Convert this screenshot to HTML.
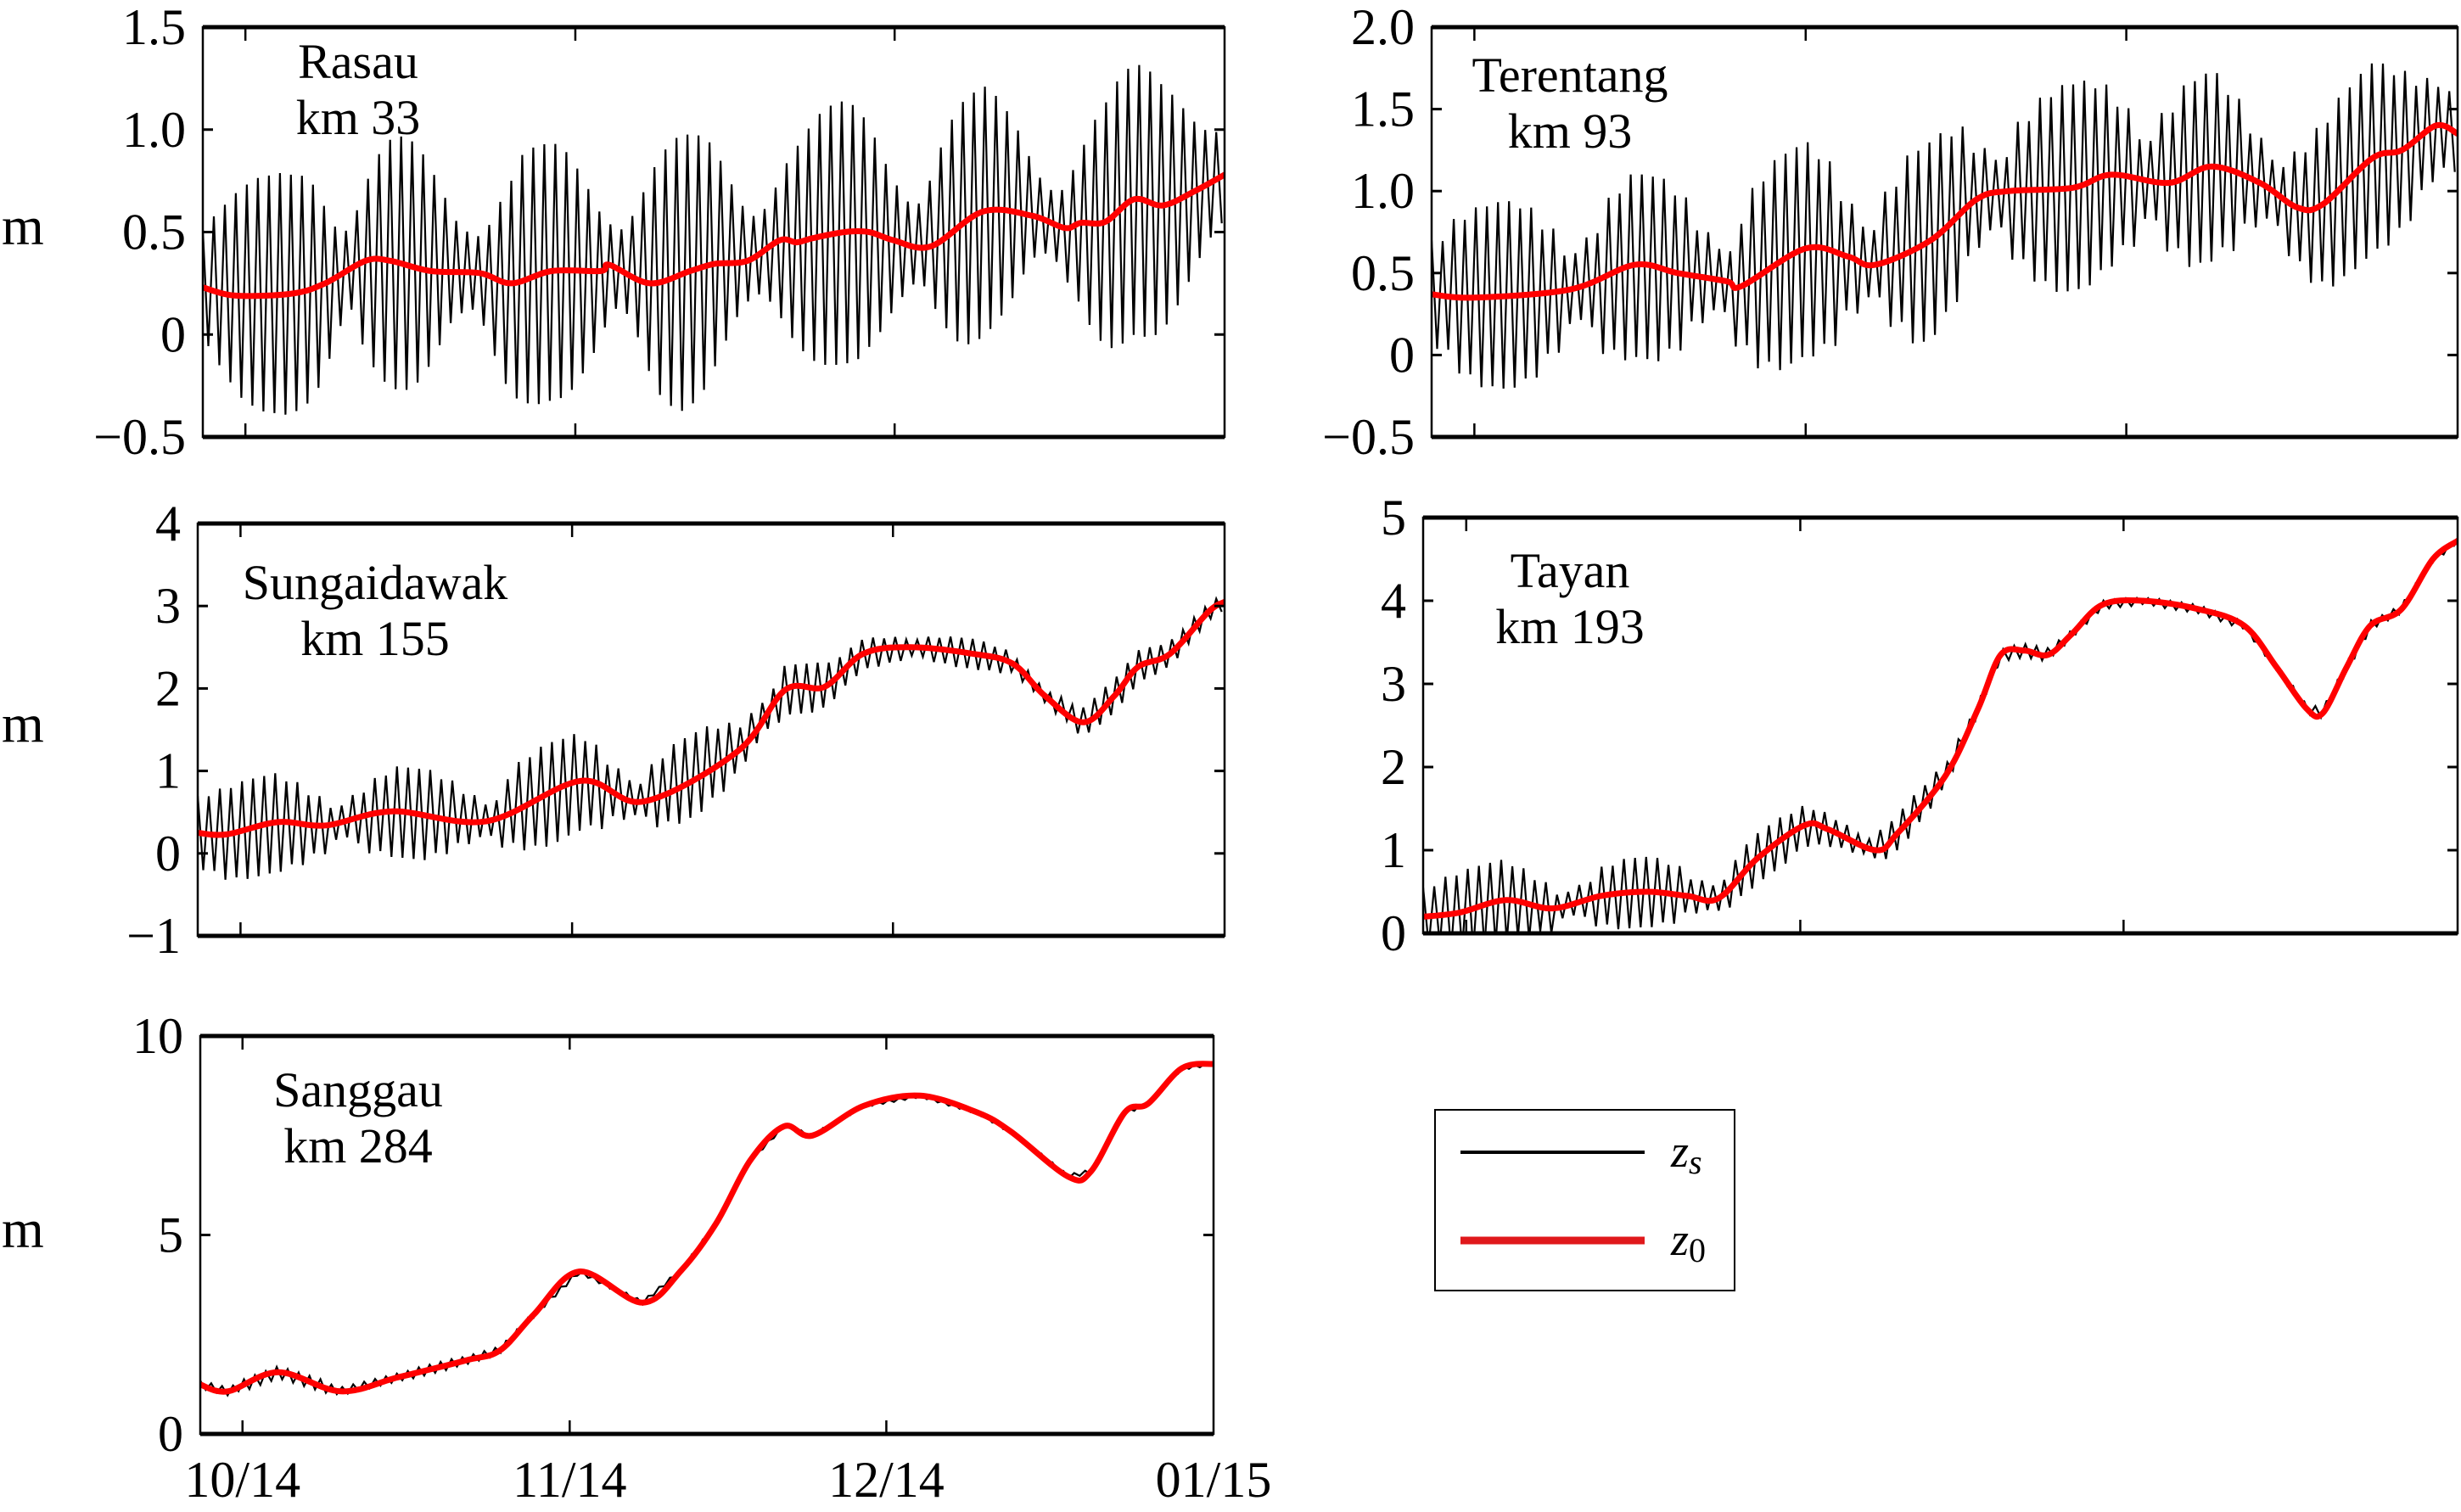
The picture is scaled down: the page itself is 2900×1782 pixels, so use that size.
<!DOCTYPE html>
<html><head><meta charset="utf-8"><style>
html,body{margin:0;padding:0;background:#fff;}
svg{display:block;}
svg text{font-family:"Liberation Serif","Times New Roman","DejaVu Serif",serif;}
</style></head><body>
<svg id="fig" width="2900" height="1782" viewBox="0 0 2900 1782" xmlns="http://www.w3.org/2000/svg">
<g>
<rect x="1691" y="1308" width="353" height="213" fill="#fff" stroke="#000" stroke-width="2"/>
<line x1="1721" y1="1358" x2="1938" y2="1358" stroke="#000" stroke-width="4"/>
<text x="1969" y="1375" font-size="54" font-style="italic">z<tspan font-size="40" dy="8">s</tspan></text>
<line x1="1721" y1="1462" x2="1938" y2="1462" stroke="#e0191c" stroke-width="9"/>
<text x="1969" y="1479" font-size="54" font-style="italic">z<tspan font-size="40" dy="8" font-style="normal">0</tspan></text>
</g>
</svg>
<script>
// ---- data (days since 27 Sep 2014; domain 0..96) ----
const xTickDays = [4, 35, 65, 96];
const xTickLabels = ["10/14", "11/14", "12/14", "01/15"];

const rasauZ0Days = [0,3.1,8.4,11.5,15.3,17.6,21.4,26,29,32.8,37.4,38.2,42,45.8,48.1,51.2,54.2,55.8,57.3,60.3,62.6,64.9,68.4,73.3,77.9,81,82.5,84.8,87.5,90.2,93.2,96];
const rasauZ0 = [0.23,0.19,0.2,0.25,0.36,0.36,0.31,0.3,0.25,0.31,0.31,0.34,0.25,0.31,0.345,0.36,0.46,0.45,0.47,0.5,0.5,0.46,0.43,0.6,0.58,0.52,0.545,0.55,0.66,0.63,0.7,0.78];
const rasauAmp = [0.28,0.36,0.43,0.50,0.54,0.57,0.58,0.59,0.58,0.56,0.50,0.38,0.25,0.20,0.27,0.40,0.52,0.59,0.62,0.61,0.56,0.47,0.36,0.25,0.20,0.18,0.25,0.38,0.50,0.57,0.61,0.63,0.63,0.62,0.58,0.50,0.40,0.29,0.20,0.20,0.29,0.43,0.56,0.63,0.67,0.67,0.65,0.60,0.50,0.38,0.27,0.20,0.20,0.27,0.38,0.47,0.54,0.60,0.63,0.64,0.64,0.62,0.56,0.47,0.36,0.27,0.20,0.20,0.32,0.45,0.55,0.60,0.61,0.61,0.57,0.50,0.41,0.29,0.20,0.16,0.18,0.27,0.38,0.50,0.58,0.64,0.66,0.66,0.66,0.64,0.59,0.52,0.43,0.34,0.27,0.23];

const terentangZ0Days = [0,4,13,19,23,27.6,29,35,39,41.5,46.7,51,54,60,63.6,69,73,77.5,81,83.4,88,90.8,94,96];
const terentangZ0 = [0.37,0.35,0.4,0.55,0.5,0.45,0.42,0.65,0.6,0.55,0.7,0.95,1.0,1.02,1.1,1.05,1.15,1.05,0.9,0.92,1.2,1.25,1.4,1.35];
const terentangAmp = [0.33,0.47,0.55,0.57,0.52,0.38,0.21,0.28,0.47,0.56,0.56,0.47,0.28,0.19,0.38,0.56,0.65,0.65,0.56,0.33,0.21,0.42,0.58,0.6,0.52,0.3,0.21,0.42,0.56,0.63,0.63,0.56,0.42,0.24,0.42,0.56,0.58,0.47,0.28,0.19,0.33,0.47,0.56,0.58,0.56,0.47,0.33,0.24];

const sungaiZ0Days = [0,2.7,7.5,12,18.2,27,35.8,41.7,50.5,54.9,58.6,62.2,66.6,72.5,76.2,79.2,82.8,85.7,87.9,90.9,94.5,96];
const sungaiZ0 = [0.25,0.23,0.38,0.34,0.51,0.39,0.88,0.63,1.24,1.98,2.02,2.42,2.5,2.42,2.3,1.91,1.59,1.91,2.26,2.42,2.93,3.05];
const sungaiAmp = [0.45,0.55,0.6,0.6,0.5,0.35,0.2,0.3,0.45,0.55,0.55,0.45,0.3,0.2,0.4,0.55,0.62,0.6,0.5,0.3,0.2,0.4,0.5,0.5,0.4,0.25,0.2,0.3,0.3,0.25,0.2,0.18,0.15,0.1,0.15,0.18,0.18,0.15,0.1,0.08,0.12,0.18,0.2,0.2,0.18,0.15,0.12,0.1];

const tayanZ0Days = [0,3.4,7.7,12,16.5,20.8,24.5,27.4,31,35.4,37.6,42,44,48.5,51.5,53.6,55.8,58,60.2,63,66.8,71.9,76.2,79.2,82,83.5,85.7,87.9,90.8,93.7,96];
const tayanZ0 = [0.2,0.25,0.4,0.3,0.45,0.5,0.45,0.42,0.9,1.3,1.25,1.0,1.2,1.9,2.7,3.35,3.4,3.35,3.6,3.95,4.0,3.9,3.7,3.2,2.7,2.65,3.2,3.7,3.9,4.5,4.72];
const tayanAmp = [0.35,0.45,0.5,0.5,0.42,0.3,0.15,0.2,0.35,0.42,0.42,0.35,0.2,0.15,0.25,0.3,0.3,0.25,0.2,0.15,0.1,0.2,0.22,0.18,0.12,0.08,0.06,0.08,0.08,0.06,0.05,0.05,0.05,0.04,0.05,0.05,0.05,0.05,0.04,0.04,0.05,0.06,0.06,0.06,0.05,0.05,0.04,0.04];

const sanggauZ0Days = [0,2.6,7.4,13.3,18.7,25.2,28.4,31.6,35.9,41.9,45.6,48.9,52.1,55.3,58,62.9,68.2,73.6,76.8,82.2,84.4,87.6,89.8,93,96];
const sanggauZ0 = [1.24,1.07,1.55,1.07,1.42,1.85,2.1,3.0,4.08,3.3,4.12,5.3,6.87,7.73,7.5,8.25,8.5,8.08,7.6,6.47,6.6,8.08,8.3,9.19,9.3];
const sanggauAmp = [0.1,0.15,0.15,0.1,0.1,0.12,0.1,0.08,0.06,0.05,0.05,0.05,0.04,0.04,0.04,0.04,0.04,0.04,0.04,0.05,0.05,0.06,0.05,0.04];

// ---- panel geometry ----
const panels = [
 {name:"rasau", L:239,R:1443,T:32,B:515, y0:-0.5,y1:1.5, ticks:[-0.5,0,0.5,1.0,1.5], tl:["\u22120.5","0","0.5","1.0","1.5"], title:["Rasau","km 33"], tx:422, ty:92, m:true, xl:false, days:rasauZ0Days, z0:rasauZ0, amp:rasauAmp},
 {name:"terentang", L:1687,R:2896,T:32,B:515, y0:-0.5,y1:2.0, ticks:[-0.5,0,0.5,1.0,1.5,2.0], tl:["\u22120.5","0","0.5","1.0","1.5","2.0"], title:["Terentang","km 93"], tx:1850, ty:108, m:false, xl:false, days:terentangZ0Days, z0:terentangZ0, amp:terentangAmp},
 {name:"sungaidawak", L:233,R:1443,T:617,B:1103, y0:-1,y1:4, ticks:[-1,0,1,2,3,4], tl:["\u22121","0","1","2","3","4"], title:["Sungaidawak","km 155"], tx:442, ty:706, m:true, xl:false, days:sungaiZ0Days, z0:sungaiZ0, amp:sungaiAmp},
 {name:"tayan", L:1677,R:2896,T:610,B:1100, y0:0,y1:5, ticks:[0,1,2,3,4,5], tl:["0","1","2","3","4","5"], title:["Tayan","km 193"], tx:1850, ty:692, m:false, xl:false, days:tayanZ0Days, z0:tayanZ0, amp:tayanAmp},
 {name:"sanggau", L:236,R:1430,T:1221,B:1690, y0:0,y1:10, ticks:[0,5,10], tl:["0","5","10"], title:["Sanggau","km 284"], tx:422, ty:1304, m:true, xl:true, days:sanggauZ0Days, z0:sanggauZ0, amp:sanggauAmp}
];
const NS = "http://www.w3.org/2000/svg";
const svg = document.getElementById("fig");
function mk(tag, attrs, parent){const e=document.createElementNS(NS,tag);for(const k in attrs)e.setAttribute(k,attrs[k]);(parent||svg).appendChild(e);return e;}
function interp(ds, vs, t){
  if(t<=ds[0])return vs[0];
  for(let i=1;i<ds.length;i++){if(t<=ds[i]){const f=(t-ds[i-1])/(ds[i]-ds[i-1]);return vs[i-1]+f*(vs[i]-vs[i-1]);}}
  return vs[vs.length-1];
}
function smoothPath(P){
  let d="M"+P[0][0].toFixed(1)+","+P[0][1].toFixed(1);
  for(let i=0;i<P.length-1;i++){
    const p0=P[Math.max(0,i-1)],p1=P[i],p2=P[i+1],p3=P[Math.min(P.length-1,i+2)];
    const c1x=p1[0]+(p2[0]-p0[0])/6, c1y=p1[1]+(p2[1]-p0[1])/6;
    const c2x=p2[0]-(p3[0]-p1[0])/6, c2y=p2[1]-(p3[1]-p1[1])/6;
    d+=" C"+c1x.toFixed(1)+","+c1y.toFixed(1)+" "+c2x.toFixed(1)+","+c2y.toFixed(1)+" "+p2[0].toFixed(1)+","+p2[1].toFixed(1);
  }
  return d;
}
const legend = svg.firstElementChild;
panels.forEach(p=>{
  const xs = d => p.L + (d/96)*(p.R-p.L);
  const ys = v => p.B - (v-p.y0)/(p.y1-p.y0)*(p.B-p.T);
  const g = mk("g",{});
  
  
  svg.insertBefore(g, legend);
  const cid = "clip-"+p.name;
  const cp = mk("clipPath",{id:cid},g);
  mk("rect",{x:p.L,y:p.T-2,width:p.R-p.L,height:p.B-p.T+4},cp);
  const P = 1.035; let pts=[]; const n=p.amp.length;
  for(let t=0; t<=96; t+=P/2){
    const k=Math.round(t/(P/2));
    const a=p.amp[Math.min(n-1,Math.floor(t*n/96))];
    const c=interp(p.days,p.z0,t);
    const v = c + (k%2===0 ? a : -a);
    pts.push(xs(t).toFixed(1)+","+ys(v).toFixed(1));
  }
  const bl = mk("polyline",{points:pts.join(" "),fill:"none",stroke:"#000","stroke-width":2.2,"stroke-linejoin":"miter","clip-path":"url(#"+cid+")"},g);
  
  
  const rpts = p.days.map((d,i)=>[xs(d), ys(p.z0[i])]);
  const rl = mk("path",{d:smoothPath(rpts),fill:"none",stroke:"#f00","stroke-width":7,"stroke-linejoin":"round","stroke-linecap":"round","clip-path":"url(#"+cid+")"},g);
  
  
  const fr = mk("rect",{x:p.L,y:p.T,width:p.R-p.L,height:p.B-p.T,fill:"none",stroke:"#000","stroke-width":2.5},g);
  
  
  mk("line",{x1:p.L,y1:p.T,x2:p.R,y2:p.T,stroke:"#000","stroke-width":5},g);
  mk("line",{x1:p.L,y1:p.B,x2:p.R,y2:p.B,stroke:"#000","stroke-width":5},g);
  p.ticks.forEach((v,i)=>{
    const y=ys(v);
    mk("line",{x1:p.L,y1:y,x2:p.L+12,y2:y,stroke:"#000","stroke-width":3},g);
    mk("line",{x1:p.R-12,y1:y,x2:p.R,y2:y,stroke:"#000","stroke-width":3},g);
    const tx = mk("text",{x:p.L-20,y:y+20,"font-size":60,"text-anchor":"end"},g);
    
    
    tx.textContent=p.tl[i];
  });
  xTickDays.forEach((d,i)=>{
    const x=xs(d);
    if(d<96){
      mk("line",{x1:x,y1:p.T,x2:x,y2:p.T+16,stroke:"#000","stroke-width":2.5},g);
      mk("line",{x1:x,y1:p.B-16,x2:x,y2:p.B,stroke:"#000","stroke-width":2.5},g);
    }
    if(p.xl){
      const t = mk("text",{x:x,y:1764,"font-size":60,"text-anchor":"middle"},g);
      
      
      t.textContent=xTickLabels[i];
    }
  });
  p.title.forEach((s,i)=>{
    const t = mk("text",{x:p.tx,y:p.ty+i*66,"font-size":58,"text-anchor":"middle"},g);
    
    
    t.textContent=s;
  });
  if(p.m){
    const t = mk("text",{x:2,y:(p.T+p.B)/2+14,"font-size":64},g);
    
    
    t.textContent="m";
  }
});
</script>
</body></html>
